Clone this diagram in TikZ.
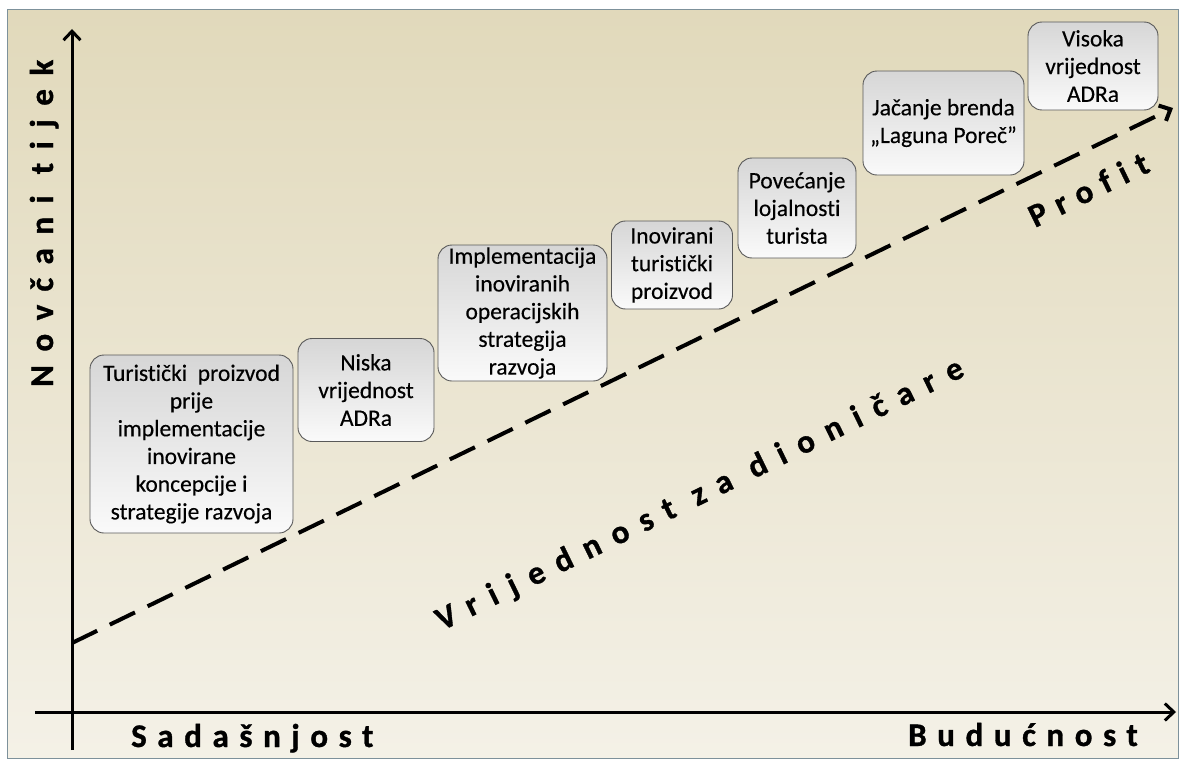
\documentclass[tikz,border=0pt]{standalone}
\usepackage{fontspec}
\setmainfont[Ligatures=NoCommon,FakeBold=0.3]{Carlito}
\newfontfamily\axisfont[LetterSpace=32,Ligatures=NoCommon,BoldFeatures={FakeBold=1}]{Carlito}
\newfontfamily\slopefont[LetterSpace=41,Ligatures=NoCommon,BoldFeatures={FakeBold=1}]{Carlito}
\usetikzlibrary{arrows.meta}
\definecolor{bgtop}{RGB}{225,217,187}
\definecolor{bgbot}{RGB}{244,241,231}
\definecolor{panelframe}{RGB}{125,145,155}

\begin{document}
\begin{tikzpicture}[x=1pt,y=-1pt,>={Straight Barb[length=9pt,width=17pt]},every node/.append style={align=center},
  stage/.style={draw=black!65, line width=0.9pt, rounded corners=14pt, top color=black!16, bottom color=black!2, inner sep=0pt, font=\fontsize{23.5}{27.7}\selectfont},
  axlab/.style={font=\axisfont\bfseries\fontsize{33}{38}\selectfont, inner sep=0pt},
  slopelab/.style={font=\slopefont\bfseries\fontsize{33}{38}\selectfont, inner sep=0pt},
  axis/.style={->, line width=3pt}]
    \useasboundingbox (0,0) rectangle (1180,760);
    \path[draw=panelframe, line width=1pt, top color=bgtop, bottom color=bgbot] (7,10) rectangle (1178,758);

    \node [stage, minimum width=203pt, minimum height=178pt] (T) at (191.5,444) {Turistički~~proizvod\\prije\\implementacije\\inovirane\\koncepcije i\\strategije razvoja};
    \node [stage, minimum width=136pt, minimum height=103pt] (N) at (366,390) {Niska\\vrijednost\\ADRa};
    \node [stage, minimum width=169pt, minimum height=136pt] (IS) at (522.5,313) {Implementacija\\inoviranih\\operacijskih\\strategija\\razvoja};
    \node [stage, minimum width=121pt, minimum height=88pt] (IP) at (672,265) {Inovirani\\turistički\\proizvod};
    \node [stage, minimum width=118pt, minimum height=100pt] (L) at (797,208) {Povećanje\\lojalnosti\\turista};
    \node [stage, minimum width=161pt, minimum height=104pt] (B) at (943.5,123) {Jačanje brenda\\„Laguna Poreč”};
    \node [stage, minimum width=130pt, minimum height=88pt] (V) at (1093,66) {Visoka\\vrijednost\\ADRa};

    \coordinate (Ybot) at (72,750);
    \coordinate (Ytop) at (72,29);
    \coordinate (Xl) at (35,712);
    \coordinate (Xr) at (1176,712);
    \coordinate (Ds) at (72,643);
    \coordinate (De) at (1173,108);
    \draw[axis] (Ybot) -- (Ytop);
    \draw[axis] (Xl) -- (Xr);
    \draw[axis, line width=4pt, dash pattern=on 28pt off 14pt] (Ds) -- (De);

    \node [slopelab, rotate=90, anchor=base west] (yl) at (53,387) {Novčani tijek};
    \node [axlab, anchor=base west] (now) at (131,747) {Sadašnjost};
    \node [axlab, anchor=base west] (fut) at (908,746) {Budućnost};
    \node [slopelab, rotate=26, anchor=base west] (val) at (442,631) {Vrijednost za dioničare};
    \node [axlab, rotate=26, anchor=base west] (prof) at (1035,228) {Profit};
\end{tikzpicture}
\end{document}
